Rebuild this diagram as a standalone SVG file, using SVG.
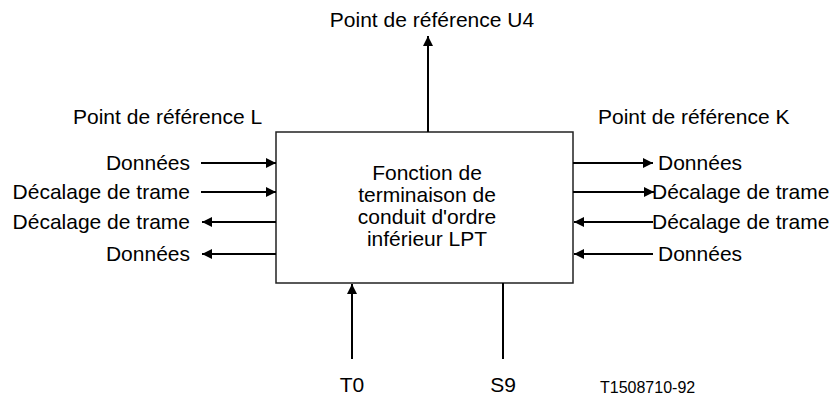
<svg xmlns="http://www.w3.org/2000/svg" width="834" height="399" viewBox="0 0 834 399">
  <defs>
    <marker id="arrow" viewBox="0 0 10 10" refX="10" refY="5" markerWidth="5" markerHeight="5" markerUnits="strokeWidth" orient="auto">
      <path d="M0,0 L10,5 L0,10 z" fill="#000"/>
    </marker>
    <style>
      text { font-family: "Liberation Sans", Arial, sans-serif; font-size: 21px; fill: #000; }
      .end { text-anchor: end; }
      .mid { text-anchor: middle; }
      .small { font-size: 16px; }
      .conn line { stroke: #000; stroke-width: 2; fill: none; }
      .arr { marker-end: url(#arrow); }
      .box { fill: #fff; stroke: #222; stroke-width: 1.5; }
    </style>
  </defs>
  <rect width="834" height="399" fill="#fff"/>

  <!-- Central function block -->
  <g id="lpt">
    <rect class="box" x="276" y="132" width="297" height="151"/>
    <text class="mid" x="427" y="180">Fonction de</text>
    <text class="mid" x="427" y="202">terminaison de</text>
    <text class="mid" x="427" y="224">conduit d'ordre</text>
    <text class="mid" x="427" y="246">inférieur LPT</text>
  </g>

  <!-- Connectors -->
  <g class="conn">
    <line class="arr" x1="428" y1="132" x2="428" y2="36"/>
    <line class="arr" x1="201" y1="163" x2="276" y2="163"/>
    <line class="arr" x1="201" y1="192" x2="276" y2="192"/>
    <line class="arr" x1="276" y1="222" x2="202" y2="222"/>
    <line class="arr" x1="276" y1="254" x2="202" y2="254"/>
    <line class="arr" x1="573" y1="163" x2="653" y2="163"/>
    <line class="arr" x1="573" y1="192" x2="654" y2="192"/>
    <line class="arr" x1="653" y1="222" x2="574" y2="222"/>
    <line class="arr" x1="653" y1="254" x2="574" y2="254"/>
    <line class="arr" x1="352" y1="359" x2="352" y2="284"/>
    <line x1="503" y1="283" x2="503" y2="359"/>
  </g>

  <!-- Reference point U4 -->
  <g id="ref-u4">
    <text class="mid" x="432" y="27">Point de référence U4</text>
  </g>

  <!-- Reference point L -->
  <g id="ref-l">
    <text x="73" y="124">Point de référence L</text>
    <text class="end" x="190" y="170">Données</text>
    <text class="end" x="190" y="199">Décalage de trame</text>
    <text class="end" x="190" y="229">Décalage de trame</text>
    <text class="end" x="190" y="261">Données</text>
  </g>

  <!-- Reference point K -->
  <g id="ref-k">
    <text x="598" y="124">Point de référence K</text>
    <text x="658" y="170">Données</text>
    <text x="652" y="199">Décalage de trame</text>
    <text x="652" y="229">Décalage de trame</text>
    <text x="658" y="261">Données</text>
  </g>

  <!-- Timing inputs -->
  <g id="t0">
    <text class="mid" x="352" y="392">T0</text>
  </g>
  <g id="s9">
    <text class="mid" x="503" y="392">S9</text>
  </g>

  <g id="figure-id">
    <text class="small" x="600" y="393">T1508710-92</text>
  </g>
</svg>
